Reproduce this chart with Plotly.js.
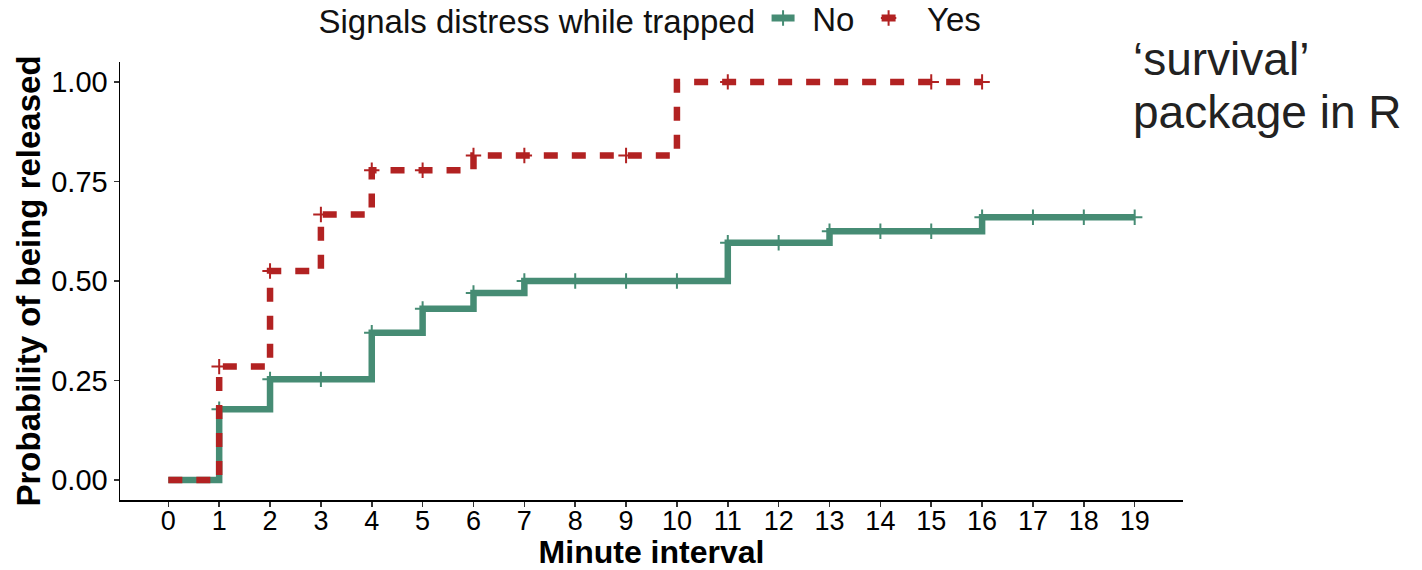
<!DOCTYPE html>
<html>
<head>
<meta charset="utf-8">
<script src="https://cdn.plot.ly/plotly-3.0.1.min.js"></script>
<style>html,body{margin:0;padding:0;background:#fff;}#chart{width:1422px;height:570px;}</style>
</head>
<body>
<div id="chart"></div>
<script>
// ---- Data ----
const groupNames = ["No", "Yes"];
const legendTitle = "Signals distress while trapped";
const xTitle = "Minute interval";
const yTitle = "Probability of being released";
const noteLines = ["\u2018survival\u2019", "package in R"];

// Step (Kaplan-Meier style cumulative) curves
const noStepX  = [0, 1, 2, 4, 5, 6, 7, 11, 13, 16, 19];
const noStepY  = [0, 0.178, 0.253, 0.370, 0.430, 0.470, 0.500, 0.596, 0.625, 0.660, 0.660];
const yesStepX = [0, 1, 2, 3, 4, 6, 10, 16];
const yesStepY = [0, 0.285, 0.525, 0.667, 0.778, 0.815, 1.000, 1.000];

// Censoring marks (times)
const noCensorX  = [1, 2, 3, 4, 5, 6, 7, 8, 9, 10, 11, 12, 13, 14, 15, 16, 17, 18, 19];
const yesCensorX = [1, 2, 3, 4, 5, 6, 7, 9, 11, 15, 16];

const xTicks = [0,1,2,3,4,5,6,7,8,9,10,11,12,13,14,15,16,17,18,19];
const yTicks = [0, 0.25, 0.5, 0.75, 1.0];

// ---- helpers ----
function stepValue(xs, ys, t) {
  let v = ys[0];
  for (let i = 0; i < xs.length; i++) { if (xs[i] <= t) v = ys[i]; }
  return v;
}

const GREEN = "#468c74";
const RED = "#b22222";
const FONT = "Liberation Sans, Arial, sans-serif";
const crossMarker = c => ({symbol: "cross-thin", size: 11, color: c, line: {color: c, width: 2}});

const traces = [
  {
    x: noStepX, y: noStepY, name: groupNames[0], type: "scatter", mode: "lines",
    line: {shape: "hv", color: GREEN, width: 6.5}, showlegend: false
  },
  {
    x: noCensorX, y: noCensorX.map(t => stepValue(noStepX, noStepY, t)), name: groupNames[0],
    type: "scatter", mode: "markers", marker: crossMarker(GREEN), showlegend: false
  },
  {
    x: yesStepX, y: yesStepY, name: groupNames[1], type: "scatter", mode: "lines",
    line: {shape: "hv", color: RED, width: 6.5, dash: "14px,14px"}, showlegend: false
  },
  {
    x: yesCensorX, y: yesCensorX.map(t => stepValue(yesStepX, yesStepY, t)), name: groupNames[1],
    type: "scatter", mode: "markers", marker: crossMarker(RED), showlegend: false
  },
  // legend entries (short keys like the ggplot legend)
  {x: [null], y: [null], name: "\u00A0" + groupNames[0] + "\u00A0", type: "scatter", mode: "lines+markers",
   line: {color: GREEN, width: 7, dash: "0px,3.5px,23px,20px"}, marker: crossMarker(GREEN)},
  {x: [null], y: [null], name: "\u00A0\u00A0" + groupNames[1], type: "scatter", mode: "lines+markers",
   line: {color: RED, width: 7, dash: "0px,8px,14px,20px"}, marker: crossMarker(RED)}
];

const layout = {
  width: 1422, height: 570,
  paper_bgcolor: "#fff", plot_bgcolor: "#fff",
  margin: {l: 120, r: 239, t: 62, b: 70, pad: 0, autoexpand: false},
  font: {family: FONT, color: "#000"},
  showlegend: true,
  legend: {
    orientation: "h", x: 0.5, xanchor: "center", y: 1.0365, yanchor: "bottom",
    font: {size: 33, family: FONT, color: "#111"},
    title: {text: legendTitle, side: "left", font: {size: 33, family: FONT, color: "#111"}},
    itemwidth: 30, tracegroupgap: 0, bgcolor: "rgba(0,0,0,0)"
  },
  xaxis: {
    range: [-0.95, 19.95], tickvals: xTicks, ticktext: xTicks.map(String),
    showline: true, linecolor: "#000", linewidth: 1.5, mirror: false,
    ticks: "outside", ticklen: 5, tickwidth: 1.5, tickcolor: "#333",
    showgrid: false, zeroline: false, ticklabelstandoff: -9,
    tickfont: {size: 27, family: FONT, color: "#000"},
    title: {text: xTitle, font: {size: 32, family: FONT, color: "#000", weight: "bold"}, standoff: 9},
    automargin: false
  },
  yaxis: {
    range: [-0.05, 1.05], tickvals: yTicks, tickformat: ".2f",
    showline: true, linecolor: "#000", linewidth: 1.5, mirror: false,
    ticks: "outside", ticklen: 5, tickwidth: 1.5, tickcolor: "#333",
    showgrid: false, zeroline: false,
    tickfont: {size: 29, family: FONT, color: "#000"},
    title: {text: yTitle, font: {size: 33, family: FONT, color: "#000", weight: "bold"}, standoff: 0},
    automargin: false
  },
  annotations: [
    {xref: "paper", yref: "paper", x: 0.951, y: 1.007, xanchor: "left", yanchor: "middle",
     text: noteLines[0], showarrow: false, font: {size: 46, family: FONT, color: "#222"}},
    {xref: "paper", yref: "paper", x: 0.951, y: 0.886, xanchor: "left", yanchor: "middle",
     text: noteLines[1], showarrow: false, font: {size: 46, family: FONT, color: "#222"}}
  ]
};

Plotly.newPlot("chart", traces, layout, {displayModeBar: false, staticPlot: true});
</script>
</body>
</html>
